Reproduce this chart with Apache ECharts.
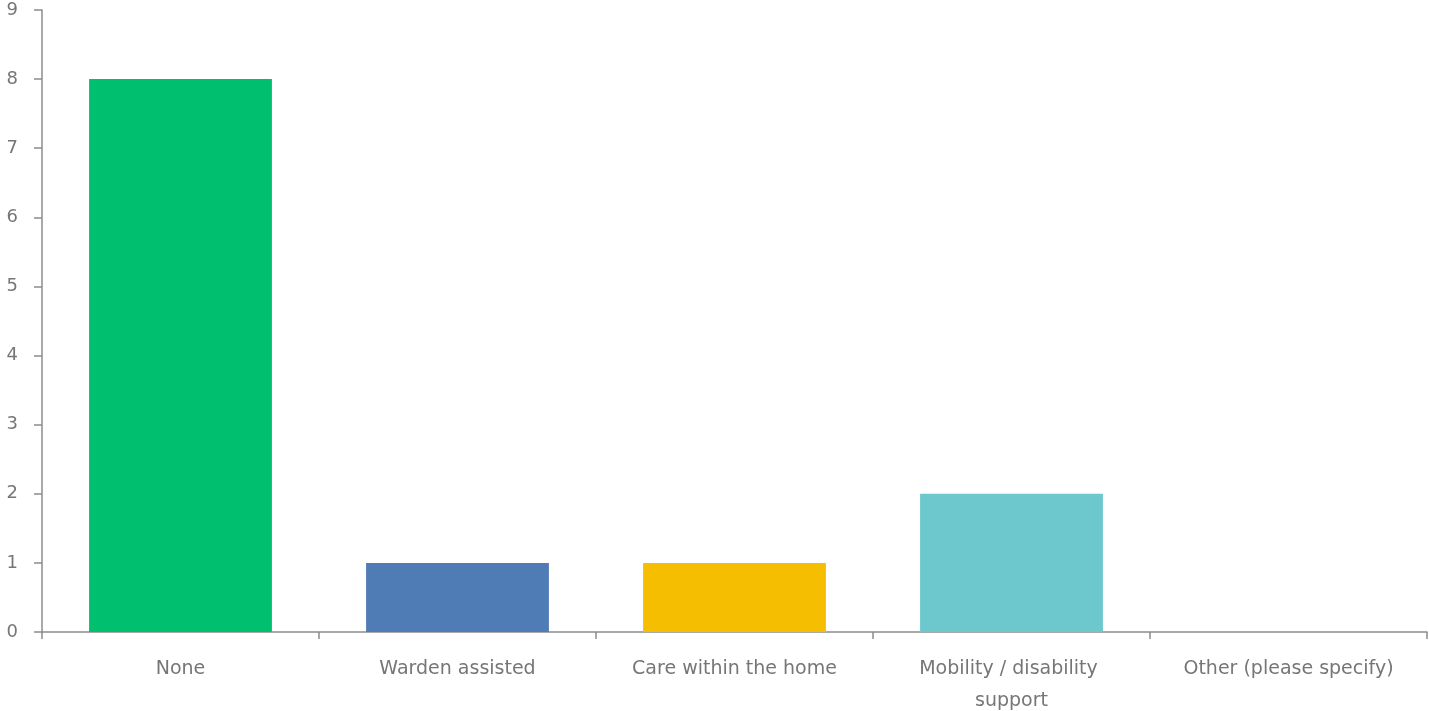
<!DOCTYPE html>
<html>
<head>
<meta charset="utf-8">
<script src="https://cdn.jsdelivr.net/npm/echarts@6/dist/echarts.min.js"></script>
<style>
  html, body { margin: 0; padding: 0; background: #fff; }
  #chart { width: 1429px; height: 711px; }
</style>
</head>
<body>
<div id="chart"></div>
<script>
// Categories and counts for the support-type question
const categories = ['None', 'Warden assisted', 'Care within the home', 'Mobility / disability support', 'Other (please specify)'];
const counts = [8, 1, 1, 2, 0];
const barColors = ['#00BF6F', '#507CB6', '#F6BE00', '#6CC8CC', '#A3A3A3'];
const yTicks = [0, 1, 2, 3, 4, 5, 6, 7, 8, 9];

const chart = echarts.init(document.getElementById('chart'));
const axisColor = '#8c8c8c';
const textColor = '#767676';
const font = 'DejaVu Sans';

chart.setOption({
  animation: false,
  grid: { left: 42, right: 2, top: 10, bottom: 79, containLabel: false, outerBoundsMode: 'none' },
  xAxis: {
    type: 'category',
    data: categories,
    axisLine: { lineStyle: { color: axisColor, width: 1.5 } },
    axisTick: { show: true, length: 7, alignWithLabel: false, lineStyle: { color: axisColor, width: 1.5 } },
    axisLabel: {
      color: textColor,
      fontFamily: font,
      fontSize: 19,
      margin: 21,
      lineHeight: 32,
      interval: 0,
      width: 240,
      overflow: 'break'
    }
  },
  yAxis: {
    type: 'value',
    min: yTicks[0],
    max: yTicks[yTicks.length - 1],
    interval: 1,
    splitLine: { show: false },
    axisLine: { show: true, lineStyle: { color: axisColor, width: 1.5 } },
    axisTick: { show: true, inside: false, length: 8, lineStyle: { color: axisColor, width: 1.5 } },
    axisLabel: {
      color: textColor,
      fontFamily: font,
      fontSize: 18,
      margin: 24
    }
  },
  series: [{
    type: 'bar',
    data: counts.map((v, i) => ({ value: v, itemStyle: { color: barColors[i] } })),
    barWidth: '66%'
  }]
});
</script>
</body>
</html>
